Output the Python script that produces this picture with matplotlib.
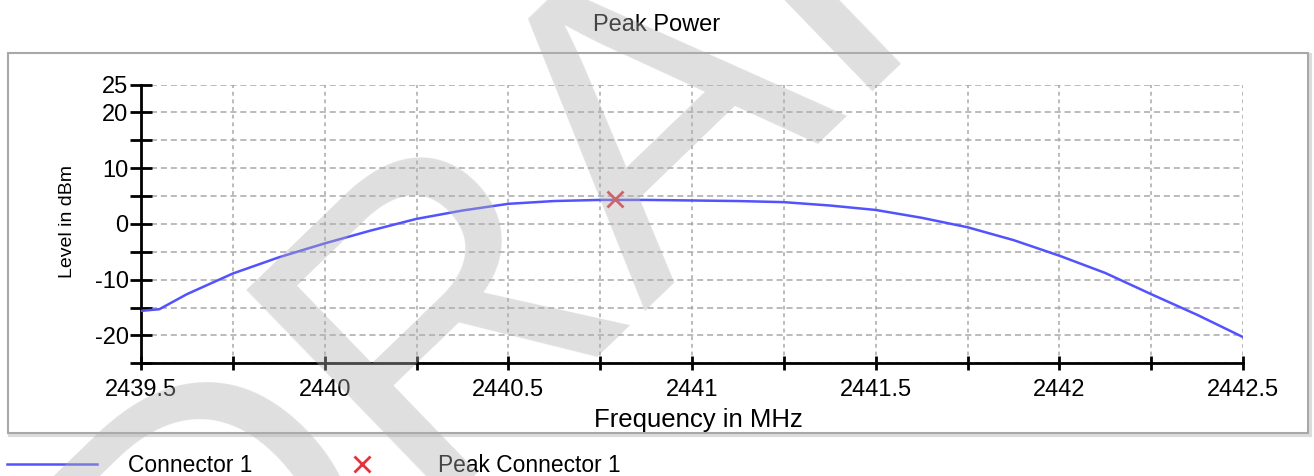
import matplotlib
matplotlib.use("Agg")
import matplotlib.pyplot as plt
from matplotlib.patches import Rectangle
from matplotlib.ticker import FixedLocator, FuncFormatter
import numpy as np

plt.rcParams['font.family'] = ['Liberation Sans', 'DejaVu Sans']

# ---- data ----
freq_mhz = [2439.5, 2439.55, 2439.625, 2439.75, 2439.875, 2440.0, 2440.125, 2440.25,
            2440.375, 2440.5, 2440.625, 2440.75, 2440.875, 2441.0, 2441.125, 2441.25,
            2441.375, 2441.5, 2441.625, 2441.75, 2441.875, 2442.0, 2442.125, 2442.25,
            2442.375, 2442.5]
level_dbm = [-15.6, -15.3, -12.6, -8.9, -6.0, -3.5, -1.2, 0.9,
             2.4, 3.6, 4.1, 4.3, 4.3, 4.2, 4.1, 3.9,
             3.3, 2.5, 1.1, -0.6, -2.9, -5.7, -8.8, -12.6,
             -16.3, -20.3]
peak_freq = [2440.79]
peak_level = [4.5]

x_ticks = [2439.5, 2439.75, 2440.0, 2440.25, 2440.5, 2440.75, 2441.0, 2441.25,
           2441.5, 2441.75, 2442.0, 2442.25, 2442.5]
x_labels = {2439.5: "2439.5", 2440.0: "2440", 2440.5: "2440.5", 2441.0: "2441",
            2441.5: "2441.5", 2442.0: "2442", 2442.5: "2442.5"}
y_ticks = [-25, -20, -15, -10, -5, 0, 5, 10, 15, 20, 25]
y_labels = {25: "25", 20: "20", 10: "10", 0: "0", -10: "-10", -20: "-20"}

title = "Peak Power"
xlabel = "Frequency in MHz"
ylabel = "Level in dBm"
series_name = "Connector 1"
peak_name = "Peak Connector 1"
watermark = "DRAFT"

# ---- figure ----
W, H = 1314, 476
fig = plt.figure(figsize=(W / 100, H / 100), dpi=100)

def fx(px):
    return px / W

def fy(py):
    return 1 - py / H

# outer frame with shadow
fig.patches.append(Rectangle((fx(10), fy(435)), fx(1300), (435 - 55) / H,
                             transform=fig.transFigure, facecolor='none',
                             edgecolor='#dcdcdc', lw=3, zorder=-20))
fig.patches.append(Rectangle((fx(8), fy(433)), fx(1300), (433 - 53) / H,
                             transform=fig.transFigure, facecolor='white',
                             edgecolor='#a8a8a8', lw=1.5, zorder=-10))

ax_l, ax_r, ax_t, ax_b = 141, 1243, 84.5, 363.3
ax = fig.add_axes([fx(ax_l), fy(ax_b), fx(ax_r - ax_l), (ax_b - ax_t) / H])
ax.set_facecolor('none')
ax.set_zorder(1)

ax.set_xlim(2439.5, 2442.5)
ax.set_ylim(-25, 25)

ax.xaxis.set_major_locator(FixedLocator(x_ticks))
ax.yaxis.set_major_locator(FixedLocator(y_ticks))
ax.xaxis.set_major_formatter(FuncFormatter(lambda v, p: x_labels.get(round(v, 2), "")))
ax.yaxis.set_major_formatter(FuncFormatter(lambda v, p: y_labels.get(int(round(v)), "")))

for s in ['top', 'right']:
    ax.spines[s].set_visible(False)
for s in ['left', 'bottom']:
    ax.spines[s].set_linewidth(2)
    ax.spines[s].set_color('black')

ax.tick_params(axis='x', direction='inout', length=10, width=2, pad=6,
               labelsize=17, colors='black')
ax.tick_params(axis='y', direction='inout', length=16, width=2, pad=1,
               labelsize=17, colors='black')

ax.yaxis.grid(True, color='#a8a8a8', linestyle=(0, (4, 2.5)), linewidth=1.1)
ax.xaxis.grid(True, color='#a8a8a8', linestyle=(0, (2.5, 2.5)), linewidth=1.1)
ax.set_axisbelow(True)

line, = ax.plot(freq_mhz, level_dbm, color='#5252ff', lw=1.8, label=series_name,
                zorder=3)
pk, = ax.plot(peak_freq, peak_level, linestyle='none', marker='x', color='#e8303a',
              markersize=11, markeredgewidth=2, label=peak_name, zorder=4)

fig.text(fx(657), fy(25), title, ha='center', va='center', fontsize=17)
fig.text(fx(698), fy(420), xlabel, ha='center', va='center', fontsize=18.5)
fig.text(fx(67), fy(222), ylabel, ha='center', va='center', rotation=90, fontsize=14)

fig.legend(handles=[line, pk], loc='center left', bbox_to_anchor=(fx(7), fy(465)),
           ncol=2, frameon=False, fontsize=16.4, handlelength=3.95,
           handletextpad=1.35, columnspacing=2.85, borderpad=0, borderaxespad=0,
           numpoints=1)

# watermark (overlay)
fig.text(fx(195), fy(712), watermark, ha='left', va='baseline', rotation=44,
         rotation_mode='anchor', fontsize=305, color='#b0b0b0', alpha=0.4,
         zorder=100)

fig.savefig("out.png", dpi=100)
